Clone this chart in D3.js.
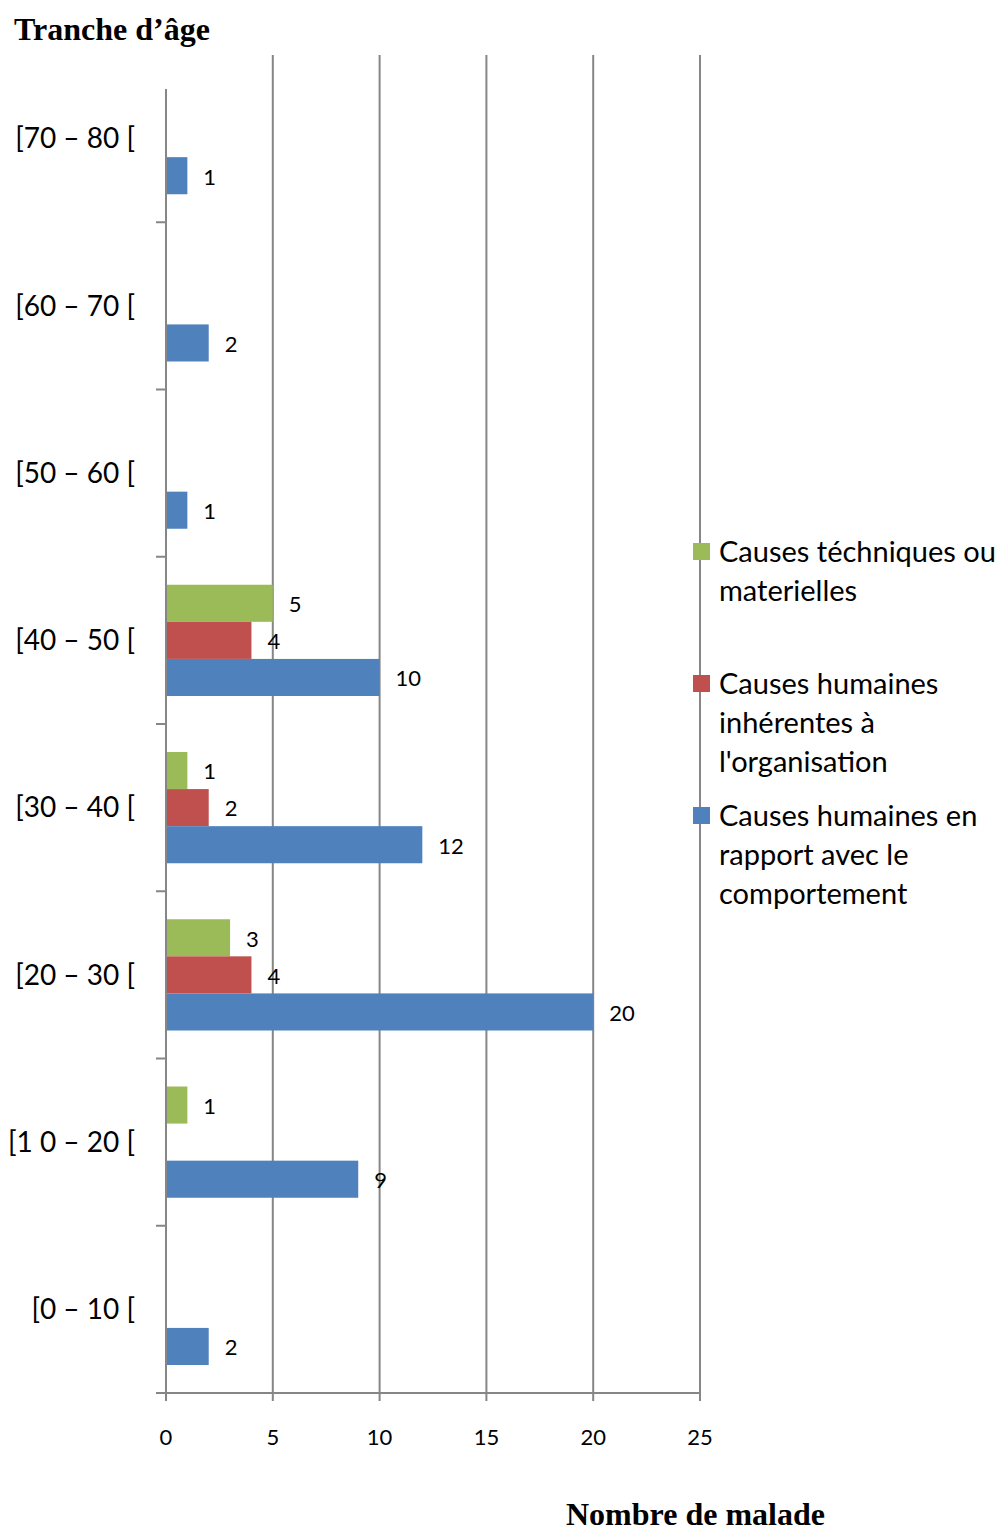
<!DOCTYPE html>
<html>
<head>
<meta charset="utf-8">
<script src="https://cdn.jsdelivr.net/npm/d3@7"></script>
<style>
  body { margin: 0; background: #fff; }
  text { font-family: Lato, "Open Sans", sans-serif; fill: #000; }
  .serif { font-family: "Liberation Serif", "DejaVu Serif", serif; font-weight: bold; }
</style>
</head>
<body>
<div id="chart"></div>
<script>
// age groups, top to bottom
var categories = ["[70 – 80 [", "[60 – 70 [", "[50 – 60 [", "[40 – 50 [", "[30 – 40 [", "[20 – 30 [", "[1 0 – 20 [", "[0 – 10 ["];
var seriesNames = ["Causes téchniques ou materielles", "Causes humaines inhérentes à l'organisation", "Causes humaines en rapport avec le comportement"];
var techniques   = [0, 0, 0, 5, 1, 3, 1, 0];
var organisation = [0, 0, 0, 4, 2, 4, 0, 0];
var comportement = [1, 2, 1, 10, 12, 20, 9, 2];
var xTicks = [0, 5, 10, 15, 20, 25];
var colors = ["#9BBB59", "#C0504D", "#4F81BD"];
var legendLines = [["Causes téchniques ou", "materielles"], ["Causes humaines", "inhérentes à", "l'organisation"], ["Causes humaines en", "rapport avec le", "comportement"]];

var svg = d3.select("#chart").append("svg")
  .attr("width", 1003)
  .attr("height", 1533);

var x = d3.scaleLinear().domain([0, 25]).range([166, 700]);
var y = d3.scaleBand().domain(categories).range([55, 1393]);
var inner = d3.scaleBand().domain([0, 1, 2]).range([28, y.bandwidth() - 28]);

var values = [techniques, organisation, comportement];

// gridlines
svg.append("g").selectAll("line")
  .data(xTicks.slice(1))
  .enter().append("line")
  .attr("x1", function(d) { return x(d); })
  .attr("x2", function(d) { return x(d); })
  .attr("y1", 55)
  .attr("y2", 1393)
  .style("stroke", "#868686")
  .style("stroke-width", 2);

// bars
var rows = [];
values.forEach(function(arr, s) {
  arr.forEach(function(v, i) {
    if (v > 0) rows.push({s: s, cat: categories[i], v: v});
  });
});

svg.append("g").selectAll("rect")
  .data(rows)
  .enter().append("rect")
  .attr("x", x(0))
  .attr("y", function(d) { return y(d.cat) + inner(d.s); })
  .attr("width", function(d) { return x(d.v) - x(0); })
  .attr("height", inner.bandwidth())
  .style("fill", function(d) { return colors[d.s]; });

svg.append("g").selectAll("text")
  .data(rows)
  .enter().append("text")
  .attr("x", function(d) { return x(d.v) + 16; })
  .attr("y", function(d) { return y(d.cat) + inner(d.s) + inner.bandwidth() / 2; })
  .attr("dy", "0.4em")
  .style("font-size", "22px")
  .text(function(d) { return d.v; });

// axes
svg.append("line")
  .attr("x1", x(0)).attr("x2", x(0))
  .attr("y1", 89).attr("y2", 1393)
  .style("stroke", "#868686").style("stroke-width", 2);
svg.append("line")
  .attr("x1", x(0) - 10).attr("x2", x(25) + 1)
  .attr("y1", 1393).attr("y2", 1393)
  .style("stroke", "#868686").style("stroke-width", 2);

svg.append("g").selectAll("line")
  .data(categories.slice(0, -1))
  .enter().append("line")
  .attr("x1", x(0) - 10).attr("x2", x(0))
  .attr("y1", function(d) { return y(d) + y.bandwidth(); })
  .attr("y2", function(d) { return y(d) + y.bandwidth(); })
  .style("stroke", "#868686").style("stroke-width", 2);

svg.append("g").selectAll("line")
  .data(xTicks)
  .enter().append("line")
  .attr("x1", function(d) { return x(d); })
  .attr("x2", function(d) { return x(d); })
  .attr("y1", 1393).attr("y2", 1401)
  .style("stroke", "#868686").style("stroke-width", 2);

svg.append("g").selectAll("text")
  .data(xTicks)
  .enter().append("text")
  .attr("x", function(d) { return x(d); })
  .attr("y", 1437)
  .attr("dy", "0.38em")
  .attr("text-anchor", "middle")
  .style("font-size", "22px")
  .text(function(d) { return d; });

svg.append("g").selectAll("text")
  .data(categories)
  .enter().append("text")
  .attr("x", 135)
  .attr("y", function(d) { return y(d) + y.bandwidth() / 2; })
  .attr("dy", "0.35em")
  .attr("text-anchor", "end")
  .style("font-size", "28px")
  .text(function(d) { return d; });

// titles
svg.append("text").attr("class", "serif")
  .attr("x", 14).attr("y", 40)
  .style("font-size", "32px")
  .text("Tranche d’âge");
svg.append("text").attr("class", "serif")
  .attr("x", 566).attr("y", 1525)
  .style("font-size", "32px")
  .text("Nombre de malade");

// legend
var legendTop = [552, 684, 816];
var leg = svg.append("g").selectAll("g")
  .data(legendLines)
  .enter().append("g");
leg.append("rect")
  .attr("x", 693)
  .attr("y", function(d, i) { return legendTop[i] - 9; })
  .attr("width", 17).attr("height", 17)
  .style("fill", function(d, i) { return colors[i]; });
leg.each(function(lines, i) {
  d3.select(this).selectAll("text")
    .data(lines)
    .enter().append("text")
    .attr("x", 719)
    .attr("y", function(l, j) { return legendTop[i] + j * 39; })
    .attr("dy", "0.36em")
    .style("font-size", "29px")
    .text(function(l) { return l; });
});
</script>
</body>
</html>
